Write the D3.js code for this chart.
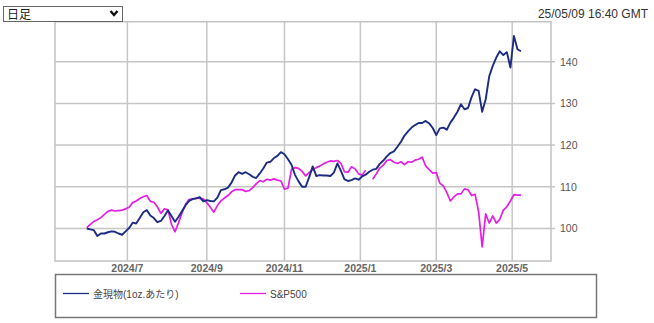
<!DOCTYPE html>
<html><head><meta charset="utf-8">
<script src="https://cdn.jsdelivr.net/npm/d3@7"></script>
<style>
html,body{margin:0;padding:0;background:#fff;}
svg{display:block;font-family:"Liberation Sans",Arial,"Noto Sans CJK JP",sans-serif;}
</style></head><body>
<script>
// ---- data ----
const periodLabel = "日足";
const timestamp = "25/05/09 16:40 GMT";
const seriesNames = ["金現物(1oz.あたり)", "S&P500"];
const seriesColors = ["#1c2c82", "#e41fe4"];
const baseDate = "2024-07-01";          // trading-day index 0
const seriesStart = "2024-05-29";       // first sample
const stepDays = 2;                     // weekdays between samples
const axisStart = "2024-05-03", axisEnd = "2025-06-02";
const monthTicks = ["2024-07-01","2024-09-02","2024-11-01","2025-01-01","2025-03-03","2025-05-01"];
const monthLabels = ["2024/7","2024/9","2024/11","2025/1","2025/3","2025/5"];
const yTicks = [100,110,120,130,140];
const yRange = [92.2, 149.6];

const gold = [100.0,99.8,99.6,98.2,98.8,98.8,99.1,99.3,99.2,98.8,98.5,99.3,100.1,101.4,101.2,102.5,103.9,104.4,103.1,102.5,
101.5,101.8,103.0,104.3,103.0,101.6,102.8,104.2,105.6,106.6,107.1,107.2,107.5,106.5,106.8,106.6,106.5,107.4,109.2,109.4,
109.8,111.0,112.7,113.5,113.1,113.5,113.0,112.4,112.1,113.2,114.4,115.8,116.0,116.9,117.4,118.3,117.8,116.6,115.3,112.8,
111.3,110.0,110.0,112.3,114.9,112.6,112.8,112.7,112.7,112.6,113.4,115.6,113.8,111.8,111.4,111.6,112.0,111.7,112.5,112.9,
113.6,114.1,114.3,115.5,116.3,117.3,118.1,118.5,119.6,120.8,122.3,123.3,124.2,124.8,125.3,125.3,125.8,125.2,124.1,122.4,
124.0,124.2,123.7,125.4,126.6,128.0,129.8,128.6,128.9,131.5,133.4,133.0,128.0,131.0,136.5,139.0,141.0,142.5,141.6,142.3,
138.6,146.2,143.0,142.5];
const sp500 = [100.2,101.0,101.7,102.1,102.6,103.4,104.1,104.4,104.2,104.3,104.4,104.7,105.1,106.2,106.6,107.2,107.6,107.9,106.5,106.3,
105.2,103.6,104.7,104.5,101.0,99.2,101.4,103.8,105.8,107.0,107.0,107.3,107.2,107.1,106.2,105.1,103.9,105.5,106.6,107.3,
107.9,108.8,109.3,109.3,109.3,108.9,109.1,109.8,110.7,111.5,111.2,111.8,111.6,111.9,111.6,111.4,109.4,109.7,114.2,114.6,
114.4,113.7,112.6,113.4,114.1,114.6,115.0,115.5,115.9,116.2,116.1,116.3,115.6,113.6,113.5,114.8,114.3,113.1,112.8,114.0,
null,111.8,113.1,114.5,115.2,116.3,116.5,115.9,115.6,116.0,115.3,116.0,115.9,116.4,116.6,117.1,115.0,114.1,113.3,113.4,
110.9,110.2,108.6,106.6,107.6,108.3,108.3,109.5,109.3,107.9,108.2,104.0,95.6,103.5,101.3,103.0,101.3,102.2,104.4,105.2,
106.6,108.1,108.0,108.0];

// ---- helpers ----
const parse = d3.timeParse("%Y-%m-%d");
const base = parse(baseDate);
function wd(s){
  const d = parse(s);
  const isWk = t => t.getDay() % 6 !== 0;
  if (d >= base) return d3.timeDay.range(base, d).filter(isWk).length;
  return -d3.timeDay.range(d, base).filter(isWk).length;
}

const W = 654, H = 323;
const plot = {l:55, t:21.7, r:551, b:261};
const svg = d3.select("body").append("svg").attr("width", W).attr("height", H);

const x = d3.scaleLinear().domain([wd(axisStart), wd(axisEnd)]).range([plot.l, plot.r]);
const y = d3.scaleLinear().domain(yRange).range([plot.b, plot.t]);

// gridlines
const gridColor = "#c6c6c6";
svg.append("g").selectAll("line").data(monthTicks).join("line")
  .attr("x1", d => x(wd(d))).attr("x2", d => x(wd(d)))
  .attr("y1", plot.t).attr("y2", plot.b)
  .attr("stroke", gridColor).attr("stroke-width", 1.5);
svg.append("g").selectAll("line").data(yTicks).join("line")
  .attr("x1", plot.l).attr("x2", plot.r + 4)
  .attr("y1", d => y(d)).attr("y2", d => y(d))
  .attr("stroke", gridColor).attr("stroke-width", 1.5);

// plot border
svg.append("rect").attr("x", plot.l).attr("y", plot.t)
  .attr("width", plot.r - plot.l).attr("height", plot.b - plot.t)
  .attr("fill", "none").attr("stroke", "#c2c2c2").attr("stroke-width", 1.5);

// y labels (right)
svg.append("g").selectAll("text").data(yTicks).join("text")
  .attr("x", plot.r + 9).attr("y", d => y(d) + 4)
  .attr("font-size", 10.5).attr("fill", "#555").text(d => d);

// x labels
svg.append("g").selectAll("text").data(monthTicks).join("text")
  .attr("x", d => x(wd(d))).attr("y", 271.5)
  .attr("text-anchor", "middle").attr("font-size", 10.5).attr("font-weight", "bold")
  .attr("fill", "#666").text((d, i) => monthLabels[i]);

// lines
const x0 = wd(seriesStart);
const line = d3.line()
  .defined(d => d != null)
  .x((d, i) => x(x0 + i * stepDays))
  .y(d => y(d));
svg.append("path").datum(sp500).attr("d", line)
  .attr("fill", "none").attr("stroke", seriesColors[1]).attr("stroke-width", 1.7)
  .attr("stroke-linejoin", "round");
svg.append("path").datum(gold).attr("d", line)
  .attr("fill", "none").attr("stroke", seriesColors[0]).attr("stroke-width", 1.9)
  .attr("stroke-linejoin", "round");

// legend
svg.append("rect").attr("x", 55.5).attr("y", 274.5).attr("width", 541).attr("height", 43)
  .attr("fill", "#fff").attr("stroke", "#777").attr("stroke-width", 1.5);
const legX = [63, 240];
const leg = svg.append("g").selectAll("g").data(seriesNames).join("g")
  .attr("transform", (d, i) => `translate(${legX[i]},293.5)`);
leg.append("line").attr("x1", 0).attr("x2", 26).attr("y1", 0).attr("y2", 0)
  .attr("stroke", (d, i) => seriesColors[i]).attr("stroke-width", 1.3);
leg.append("text").attr("x", 30).attr("y", 4).attr("font-size", 10)
  .attr("fill", "#444").text(d => d);

// top-left select box
svg.append("rect").attr("x", 3.5).attr("y", 6.5).attr("width", 119).attr("height", 15)
  .attr("fill", "#fff").attr("stroke", "#666").attr("stroke-width", 1);
svg.append("text").attr("x", 7).attr("y", 18.5).attr("font-size", 12).attr("fill", "#222")
  .text(periodLabel);
svg.append("path").attr("d", "M110.5,11 L114,15 L117.5,11")
  .attr("fill", "none").attr("stroke", "#111").attr("stroke-width", 2.4);

// timestamp
svg.append("text").attr("x", 648).attr("y", 18).attr("text-anchor", "end")
  .attr("font-size", 12).attr("fill", "#333").text(timestamp);
</script>
</body></html>
